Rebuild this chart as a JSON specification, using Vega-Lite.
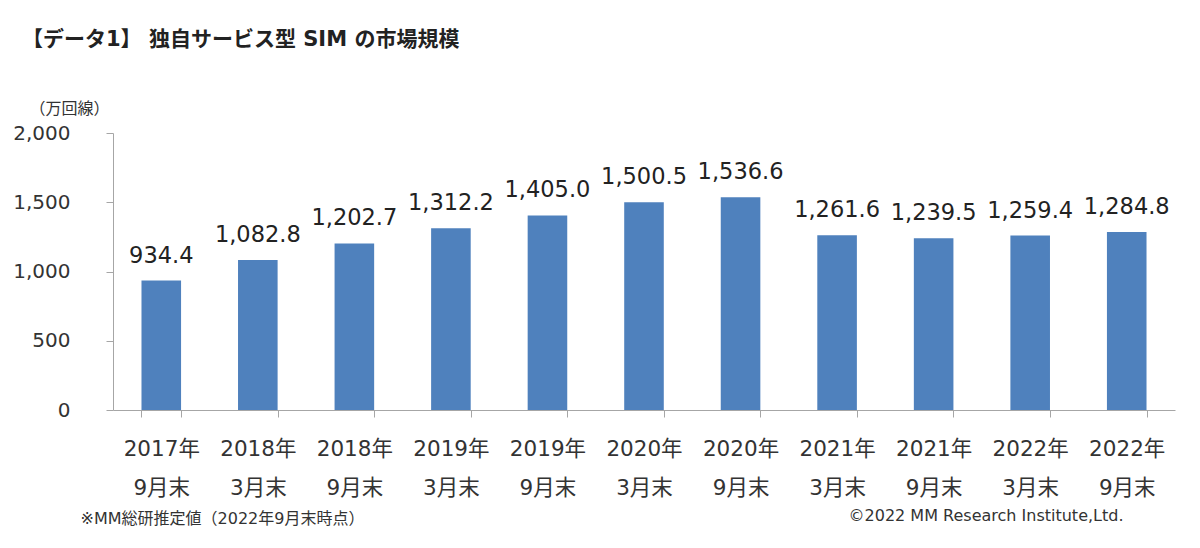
{
  "$schema": "https://vega.github.io/schema/vega-lite/v6.json",
  "autosize": "none",
  "width": 1062,
  "height": 277,
  "padding": {"left": 113, "top": 133, "right": 25, "bottom": 138},
  "background": "white",
  "title": {
    "text": "【データ1】 独自サービス型 SIM の市場規模",
    "anchor": "start",
    "frame": "group",
    "dx": -91,
    "offset": 50,
    "fontSize": 21,
    "fontWeight": "bold",
    "font": "DejaVu Sans, Noto Sans CJK JP",
    "color": "#222222"
  },
  "config": {
    "view": {"stroke": null},
    "font": "DejaVu Sans, Noto Sans CJK JP",
    "axis": {"grid": false, "domainColor": "#a6a6a6", "tickColor": "#a6a6a6", "labelColor": "#333333", "titleColor": "#333333", "titleFontWeight": "normal"}
  },
  "data": {
    "values": [
      {"period": "2017年|9月末", "value": 934.4},
      {"period": "2018年|3月末", "value": 1082.8},
      {"period": "2018年|9月末", "value": 1202.7},
      {"period": "2019年|3月末", "value": 1312.2},
      {"period": "2019年|9月末", "value": 1405.0},
      {"period": "2020年|3月末", "value": 1500.5},
      {"period": "2020年|9月末", "value": 1536.6},
      {"period": "2021年|3月末", "value": 1261.6},
      {"period": "2021年|9月末", "value": 1239.5},
      {"period": "2022年|3月末", "value": 1259.4},
      {"period": "2022年|9月末", "value": 1284.8}
    ]
  },
  "encoding": {
    "x": {
      "field": "period",
      "type": "nominal",
      "sort": null,
      "scale": {"paddingInner": 0.59, "paddingOuter": 0.295},
      "axis": {
        "title": "※MM総研推定値（2022年9月末時点）",
        "titleFontSize": 16,
        "titleAnchor": "start",
        "titleAlign": "left",
        "titleBaseline": "middle",
        "titleX": -33,
        "titleY": 108,
        "labelAngle": 0,
        "labelExpr": "split(datum.label, '|')",
        "labelFontSize": 21.5,
        "labelLineHeight": 39,
        "labelPadding": 32,
        "labelBaseline": "middle",
        "tickBand": "extent",
        "tickSize": 7,
        "ticks": true
      }
    }
  },
  "layer": [
    {
      "mark": {"type": "bar", "color": "#4f81bd"},
      "encoding": {
        "y": {
          "field": "value",
          "type": "quantitative",
          "scale": {"domain": [0, 2000]},
          "axis": {
            "values": [0, 500, 1000, 1500, 2000],
            "format": ",.0f",
            "title": "（万回線）",
            "titleAngle": 0,
            "titleAlign": "center",
            "titleBaseline": "middle",
            "titleX": -44,
            "titleY": -25,
            "titleFontSize": 16,
            "labelFontSize": 20,
            "labelPadding": 36,
            "tickSize": 7
          }
        }
      }
    },
    {
      "mark": {"type": "text", "fontSize": 22.5, "baseline": "alphabetic", "dy": -18, "color": "#222222"},
      "encoding": {
        "y": {
          "field": "value",
          "type": "quantitative",
          "scale": {"domain": [0, 2000]},
          "axis": {
            "orient": "right",
            "labels": false,
            "ticks": false,
            "domain": false,
            "title": "©2022 MM Research Institute,Ltd.",
            "titleAngle": 0,
            "titleAlign": "right",
            "titleBaseline": "middle",
            "titleX": -52,
            "titleY": 382,
            "titleFontSize": 16
          }
        },
        "text": {"field": "value", "type": "quantitative", "format": ",.1f"}
      }
    }
  ],
  "resolve": {"scale": {"y": "independent"}}
}
